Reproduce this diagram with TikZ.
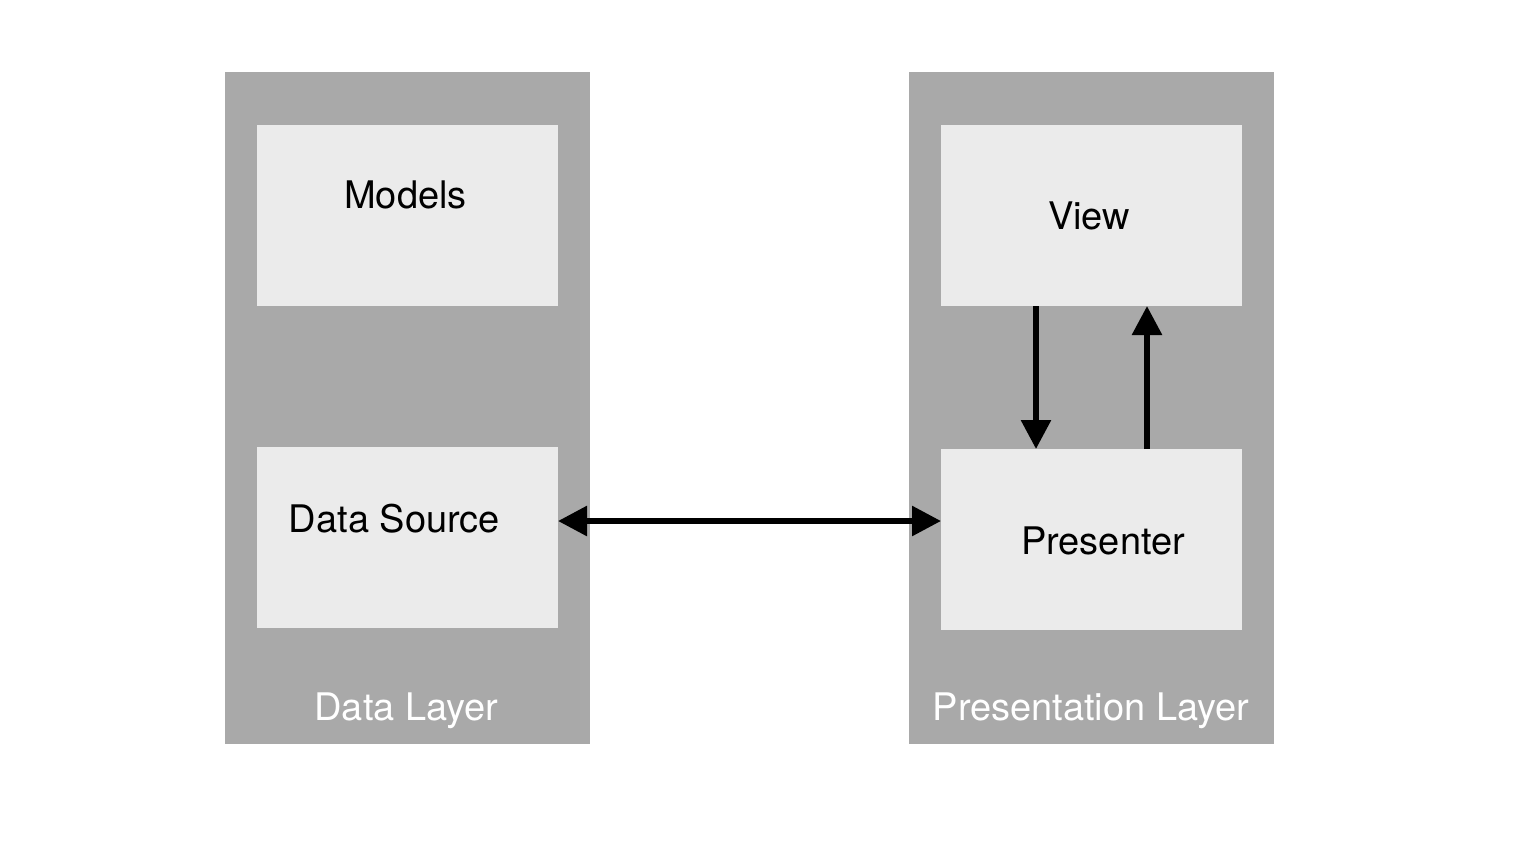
\documentclass[tikz,border=0pt]{standalone}
\usepackage{fontspec}
\setmainfont{TeX Gyre Heros}
\usetikzlibrary{arrows.meta}
\definecolor{panelgray}{HTML}{A9A9A9}
\definecolor{boxgray}{HTML}{EBEBEB}
\begin{document}
\begin{tikzpicture}[x=1pt,y=-1pt,
  panel/.style={fill=panelgray, draw=none, inner sep=0pt, outer sep=0pt, minimum width=365pt, minimum height=672pt},
  compbox/.style={fill=boxgray, draw=none, inner sep=0pt, outer sep=0pt, minimum width=301pt, minimum height=181pt},
  lbl/.style={anchor=base, inner sep=0pt, font=\fontsize{38}{44}\selectfont},
  layerlbl/.style={lbl, text=white},
  conn/.style={line width=5.8pt, -{Triangle[length=29pt,width=29pt]}},
  dconn/.style={line width=5.8pt, {Triangle[length=29pt,width=29pt]}-{Triangle[length=29pt,width=29pt]}}
]
\useasboundingbox (0,0) rectangle (1530,844);
\fill[white] (0,0) rectangle (1530,844);
% panels
\node[panel] (datalayer) at (407.5,408) {};
\node[panel] (preslayer) at (1091,408) {};
% component boxes
\node[compbox] (models) at (407.5,215.5) {};
\node[compbox] (datasource) at (407.5,537.5) {};
\node[compbox] (view) at (1091.5,215.5) {};
\node[compbox] (presenter) at (1091.5,539.5) {};
% labels
\node[lbl] (modelslbl) at (405.5,208) {Models};
\node[lbl] (viewlbl) at (1089,229) {View};
\node[lbl] (dslbl) at (394.5,532) {Data Source};
\node[lbl] (preslbl) at (1103,554) {Presenter};
\node[layerlbl] (datalbl) at (406.5,720) {Data Layer};
\node[layerlbl] (preslayerlbl) at (1091,720) {Presentation Layer};
% connector coordinates
\coordinate (hy) at (0,521);
\coordinate (dx) at (1036,0);
\coordinate (ux) at (1147,0);
% connectors
\draw[dconn] (datasource.east |- hy) -- (presenter.west |- hy);
\draw[conn] (view.south -| dx) -- (presenter.north -| dx);
\draw[conn] (presenter.north -| ux) -- (view.south -| ux);
\end{tikzpicture}
\end{document}
